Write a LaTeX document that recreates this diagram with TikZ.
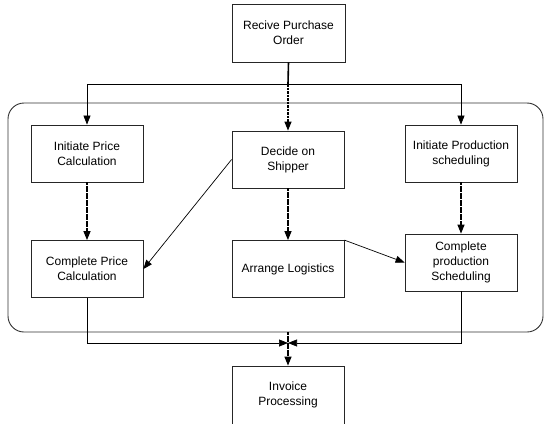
\documentclass[tikz,border=0pt]{standalone}
\usepackage{fontspec}
\setmainfont{Liberation Sans}
\usetikzlibrary{arrows.meta}
\begin{document}
\begin{tikzpicture}[x=1pt,y=-1pt,
  box/.style={draw=black!85, line width=0.8pt, fill=white,
    minimum width=112pt, minimum height=57pt, align=center,
    font=\fontsize{12}{15}\selectfont, inner sep=2pt},
  group/.style={draw=black!80, line width=0.9pt, rounded corners=16pt},
  flow/.style={line width=0.7pt, -{Triangle[length=9pt,width=7pt]}},
  seq/.style={line width=1.2pt, dash pattern=on 2.6pt off 0.9pt,
    -{Triangle[length=9pt,width=7pt]}}]
\useasboundingbox (0,0) rectangle (546,423);
\clip (0,0) rectangle (546,423);

% order-handling group
\node[group, minimum width=535pt, minimum height=229pt] (grp) at (275.5,217.5) {};

% activities
\node[box, minimum width=113pt, minimum height=58pt] (rpo) at (288.5,33) {Recive Purchase\\Order};
\node[box] (ipc) at (87,153.5) {Initiate Price\\Calculation};
\node[box] (dec) at (288,159.5) {Decide on\\Shipper};
\node[box] (ips) at (461,153.5) {Initiate Production\\scheduling};
\node[box] (cpc) at (87,269) {Complete Price\\Calculation};
\node[box] (arr) at (288,269) {Arrange Logistics};
\node[box] (cps) at (461,262.5) {Complete\\production\\Scheduling};
\node[box, minimum height=58pt] (inv) at (288,395) {Invoice\\Processing};

% split after the purchase order
\coordinate (split) at (288,84);
\draw[line width=1.6pt] (rpo.south) -- (split);
\draw[flow] (split) -| (ipc.north);
\draw[flow] (split) -| (ips.north);
\draw[seq] (split) -- (dec.north);

% sequences inside the group
\draw[seq] (ipc.south) -- (cpc.north);
\draw[seq] (dec.south) -- (arr.north);
\draw[seq] (ips.south) -- (cps.north);
\draw[flow] (dec.west) -- (cpc.east);
\draw[flow] (arr.north east) -- (cps.west);

% join before invoicing
\coordinate (join) at (288,343);
\draw[flow] (cpc.south) |- (join);
\draw[flow] (cps.south) |- (join);
\draw[seq] (inv.north |- grp.south) -- (inv.north);
\end{tikzpicture}
\end{document}
